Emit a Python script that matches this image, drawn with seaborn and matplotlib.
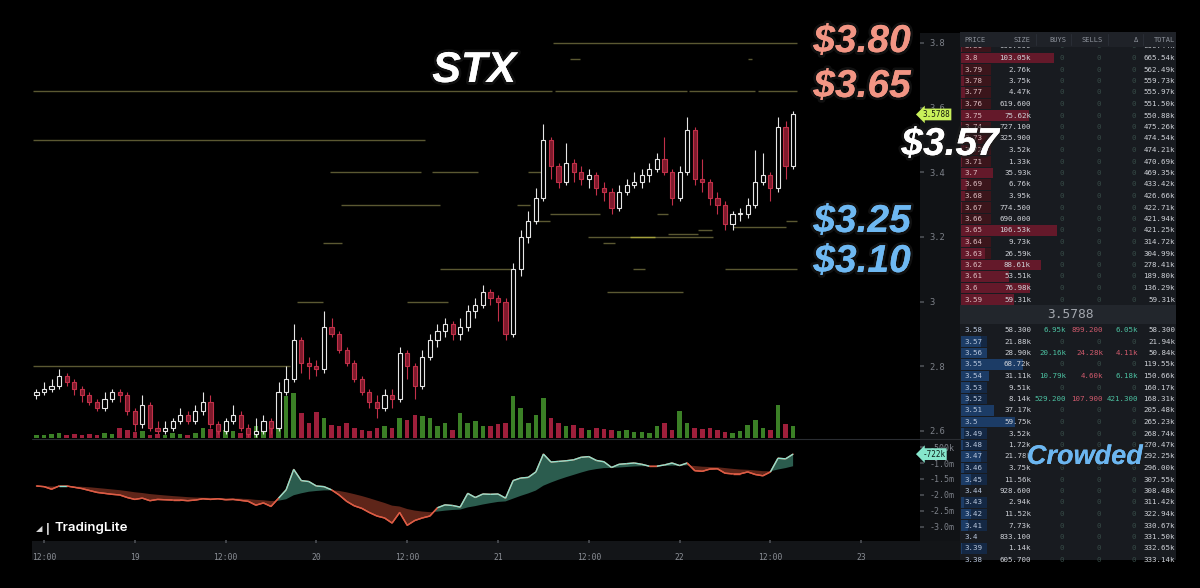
import numpy as np
import pandas as pd
import seaborn as sns
import matplotlib.pyplot as plt
import matplotlib.patheffects as pe
from matplotlib.collections import LineCollection
from matplotlib.patches import Rectangle

# Hourly candles, hours counted from the 18th 00:00
hours = np.arange(11, 112)
first_open = 2.71
close = [2.72, 2.73, 2.74, 2.77, 2.75, 2.73, 2.71, 2.69, 2.67, 2.70,
         2.72, 2.71, 2.66, 2.62, 2.68, 2.61, 2.60, 2.61, 2.63, 2.65,
         2.63, 2.66, 2.69, 2.62, 2.60, 2.63, 2.65, 2.61, 2.59, 2.60,
         2.63, 2.61, 2.72, 2.76, 2.88, 2.81, 2.80, 2.79, 2.92, 2.90,
         2.85, 2.81, 2.76, 2.72, 2.69, 2.67, 2.71, 2.70, 2.84, 2.80,
         2.74, 2.83, 2.88, 2.91, 2.93, 2.90, 2.92, 2.97, 2.99, 3.03,
         3.01, 3.00, 2.90, 3.10, 3.20, 3.25, 3.32, 3.50, 3.42, 3.37,
         3.43, 3.40, 3.38, 3.39, 3.35, 3.34, 3.29, 3.34, 3.36, 3.37,
         3.39, 3.41, 3.44, 3.40, 3.32, 3.40, 3.53, 3.38, 3.37, 3.32,
         3.30, 3.24, 3.27, 3.27, 3.30, 3.37, 3.39, 3.35, 3.54, 3.42,
         3.5788]
high = [2.73, 2.75, 2.76, 2.79, 2.78, 2.76, 2.74, 2.72, 2.70, 2.72,
        2.73, 2.73, 2.72, 2.67, 2.71, 2.69, 2.63, 2.63, 2.64, 2.67,
        2.66, 2.68, 2.72, 2.71, 2.63, 2.64, 2.68, 2.66, 2.62, 2.64,
        2.65, 2.64, 2.75, 2.80, 2.93, 2.89, 2.83, 2.82, 2.97, 2.95,
        2.91, 2.86, 2.82, 2.77, 2.73, 2.71, 2.73, 2.73, 2.86, 2.85,
        2.81, 2.85, 2.90, 2.93, 2.95, 2.94, 2.95, 2.99, 3.01, 3.05,
        3.04, 3.02, 3.01, 3.12, 3.22, 3.28, 3.35, 3.55, 3.51, 3.43,
        3.49, 3.44, 3.42, 3.41, 3.40, 3.37, 3.35, 3.36, 3.38, 3.40,
        3.41, 3.43, 3.46, 3.51, 3.41, 3.42, 3.57, 3.54, 3.44, 3.38,
        3.34, 3.31, 3.28, 3.29, 3.32, 3.47, 3.46, 3.40, 3.57, 3.56,
        3.59]
low = [2.70, 2.71, 2.72, 2.73, 2.74, 2.71, 2.69, 2.68, 2.66, 2.66,
       2.69, 2.69, 2.65, 2.60, 2.61, 2.60, 2.59, 2.59, 2.60, 2.62,
       2.62, 2.62, 2.65, 2.61, 2.59, 2.59, 2.62, 2.60, 2.58, 2.58,
       2.59, 2.59, 2.60, 2.71, 2.75, 2.78, 2.76, 2.77, 2.78, 2.89,
       2.84, 2.80, 2.75, 2.71, 2.67, 2.64, 2.66, 2.67, 2.69, 2.76,
       2.70, 2.73, 2.82, 2.86, 2.89, 2.88, 2.88, 2.91, 2.95, 2.98,
       2.99, 2.94, 2.88, 2.89, 3.08, 3.18, 3.24, 3.31, 3.38, 3.35,
       3.36, 3.37, 3.36, 3.35, 3.33, 3.31, 3.27, 3.28, 3.33, 3.35,
       3.35, 3.37, 3.40, 3.39, 3.30, 3.31, 3.39, 3.36, 3.34, 3.30,
       3.27, 3.22, 3.22, 3.25, 3.26, 3.29, 3.36, 3.31, 3.34, 3.38,
       3.41]
volume = [3, 3, 4, 5, 3, 4, 3, 4, 3, 5, 4, 10, 8, 6,
          7, 3, 4, 3, 5, 4, 3, 5, 10, 9, 6, 8, 7, 5, 6, 12, 15, 14,
          35, 42, 45, 25, 15, 26, 20, 13, 12, 15,
          10, 8, 7, 10, 12, 10, 20, 18, 23, 22,
          20, 12, 15, 8, 25, 15, 17, 12, 12, 14,
          15, 42, 30, 15, 23, 40, 20, 15, 12, 13,
          10, 8, 10, 9, 8, 7, 8, 6, 6, 5,
          12, 15, 8, 27, 15, 10, 9, 10, 8, 6,
          5, 7, 13, 18, 10, 8, 33, 14, 12]
# oscillator, in millions
osc = [-1.72, -1.74, -1.82, -1.72, -1.72, -1.76, -1.80, -1.86, -1.92, -1.95,
       -1.98, -2.00, -2.08, -2.14, -2.10, -2.18, -2.14, -2.15, -2.16, -2.16,
       -2.18, -2.16, -2.12, -2.14, -2.12, -2.15, -2.14, -2.17, -2.20, -2.32,
       -2.25, -2.36, -2.10, -1.84, -1.20, -1.55, -1.58, -1.72, -1.74, -1.84,
       -2.00, -2.20, -2.34, -2.42, -2.55, -2.66, -2.72, -2.88, -2.55, -2.95,
       -2.80, -2.72, -2.66, -2.40, -2.31, -2.33, -2.38, -1.95, -2.08, -1.97,
       -1.98, -1.97, -2.10, -1.55, -1.47, -1.45, -1.28, -0.72, -0.97, -0.95,
       -0.93, -0.90, -0.82, -0.80, -0.92, -0.96, -1.14, -1.04, -1.02, -1.00,
       -1.04, -1.10, -1.10, -1.06, -1.00, -1.08, -1.00, -1.24, -1.26, -1.19,
       -1.18, -1.32, -1.34, -1.34, -1.28, -1.36, -1.40, -1.28, -0.85, -0.87,
       -0.722]

# resting order levels drawn on the chart
lvl_price = [3.80, 3.65, 3.65, 3.65, 3.65, 3.75, 3.75, 3.50, 3.40, 3.40,
             3.40, 3.30, 3.30, 3.27, 3.27, 3.25, 3.25, 3.23, 3.22, 3.21,
             3.20, 3.20, 3.18, 3.18, 3.10, 3.10, 3.10, 3.03, 3.00, 3.00, 2.80]
lvl_from = [79.3, 10.5, 79.5, 97.3, 106.3, 81.5, 105.0, 10.5, 49.8, 63.3,
            76.0, 51.2, 74.5, 78.9, 93.0, 76.6, 110.0, 103.0, 98.4, 94.5,
            83.9, 89.4, 48.9, 85.9, 64.3, 89.8, 102.0, 86.4, 45.4, 60.0, 10.5]
lvl_to = [111.5, 79.2, 97.0, 106.0, 111.5, 82.8, 105.6, 62.4, 61.8, 69.4,
          78.0, 64.3, 76.2, 85.5, 94.5, 78.9, 111.5, 110.0, 100.3, 98.4,
          100.4, 92.7, 51.4, 87.5, 73.8, 91.4, 111.5, 96.4, 48.9, 65.4, 44.5]
lvl_bright = [0] * 21 + [1] + [0] * 9

tick_hours = [12, 24, 36, 48, 60, 72, 84, 96, 108, 120]
tick_labels = ["12:00", "19", "12:00", "20", "12:00", "21", "12:00", "22", "12:00", "23"]
price_ticks = [2.6, 2.8, 3.0, 3.2, 3.4, 3.6, 3.8]
osc_ticks = [-0.5, -1.0, -1.5, -2.0, -2.5, -3.0]
osc_labels = ["-500k", "-1.0m", "-1.5m", "-2.0m", "-2.5m", "-3.0m"]
last_price = 3.5788

# order book
ask_price = [3.81, 3.8, 3.79, 3.78, 3.77, 3.76, 3.75, 3.74, 3.73, 3.72, 3.71, 3.7,
             3.69, 3.68, 3.67, 3.66, 3.65, 3.64, 3.63, 3.62, 3.61, 3.6, 3.59]
ask_size = [900, 103050, 2760, 3750, 4470, 619.6, 75620, 727.1, 325.9, 3520, 1330, 35930,
            6760, 3950, 774.5, 690, 106530, 9730, 26590, 88610, 53510, 76980, 59310]
ask_total = [666440, 665540, 562490, 559730, 555970, 551500, 550880, 475260, 474540, 474210,
             470690, 469350, 433420, 426660, 422710, 421940, 421250, 314720, 304990, 278410,
             189800, 136290, 59310]
bid_price = [3.58, 3.57, 3.56, 3.55, 3.54, 3.53, 3.52, 3.51, 3.5, 3.49, 3.48,
             3.47, 3.46, 3.45, 3.44, 3.43, 3.42, 3.41, 3.4, 3.39, 3.38]
bid_size = [58.3, 21880, 28900, 68720, 31110, 9510, 8140, 37170, 59750, 3520, 1720,
            21780, 3750, 11560, 928.6, 2940, 11520, 7730, 833.1, 1140, 605.7]
bid_buys = [6950, 0, 20160, 0, 10790, 0, 529.2] + [0] * 14
bid_sells = [899.2, 0, 24280, 0, 4600, 0, 107.9] + [0] * 14
bid_delta = [6050, 0, -4110, 0, 6180, 0, 421.3] + [0] * 14
bid_total = [58.3, 21940, 50840, 119550, 150660, 160170, 168310, 205480, 265230, 268740,
             270470, 292250, 296000, 307550, 308480, 311420, 322940, 330670, 331500,
             332650, 333140]

df = pd.DataFrame({"hour": hours, "close": close, "high": high, "low": low,
                   "volume": volume, "osc": osc})
df["open"] = [first_open] + close[:-1]
df["up"] = df["close"] >= df["open"]
df["signal"] = df["osc"].ewm(span=14, adjust=False).mean()

sns.set_theme(style="dark", rc={"axes.facecolor": "black", "figure.facecolor": "black"})
plt.rcParams["font.family"] = ["DejaVu Sans Mono", "DejaVu Sans"]

W, H = 1200, 588
fig = plt.figure(figsize=(12, 5.88), dpi=100)


def fbox(x0, y0, x1, y1):
    # pixel box (top-left origin) -> figure fraction rect
    return [x0 / W, 1 - y1 / H, (x1 - x0) / W, (y1 - y0) / H]


# background strips
fig.add_artist(Rectangle((920 / W, 1 - 541 / H), 40 / W, 508 / H, lw=0,
                         transform=fig.transFigure, color="#111316", zorder=0))
fig.add_artist(Rectangle((32 / W, 1 - 560 / H), 928 / W, 19 / H, lw=0,
                         transform=fig.transFigure, color="#131518", zorder=0))

xlim = (10.414, 127.77)
grey = "#7d8189"

# ---- price panel ----
ax = fig.add_axes(fbox(32, 30, 920, 438))
axv = ax.twinx()
axv.bar(df["hour"], df["volume"], width=0.6,
        color=np.where(df["up"], "#3b8026", "#9e1f3b"), linewidth=0)
axv.set_ylim(0, 408)
axv.set_yticks([])
ax.set_zorder(axv.get_zorder() + 1)
ax.patch.set_visible(False)

for p, a, b, br in zip(lvl_price, lvl_from, lvl_to, lvl_bright):
    ax.hlines(p, a, b, color="#a4a03c" if br else "#5b5832", lw=1.0, zorder=1)

up_c, dn_edge, dn_face = "#e6e6e6", "#c23049", "#7e1a2c"
edge = np.where(df["up"], up_c, dn_edge)
face = np.where(df["up"], "black", dn_face)
ax.vlines(df["hour"], df["low"], df["high"], colors=edge, lw=0.8, zorder=2)
body_lo = df[["open", "close"]].min(axis=1)
body_h = (df["close"] - df["open"]).abs().clip(lower=0.004)
ax.bar(df["hour"], body_h, bottom=body_lo, width=0.55, color=face,
       edgecolor=edge, linewidth=0.8, zorder=3)

ax.set_xlim(*xlim)
ax.set_ylim(2.578, 3.840)
ax.yaxis.tick_right()
ax.set_yticks(price_ticks)
ax.set_yticklabels(["2.6", "2.8", "3", "3.2", "3.4", "3.6", "3.8"])
ax.tick_params(axis="y", colors="#4a4d52", labelcolor=grey, labelsize=6.3,
               length=3, pad=4, right=True)
ax.set_xticks([])
for s in ax.spines.values():
    s.set_visible(False)
for s in axv.spines.values():
    s.set_visible(False)

ax.text(1.0025, last_price, "3.5788", transform=ax.get_yaxis_transform(),
        fontsize=5.5, color="#15180c", va="center", ha="left", zorder=10,
        bbox=dict(boxstyle="larrow,pad=0.18", fc="#c8f05a", ec="none"))

# separator between panes
fig.add_artist(plt.Line2D([32 / W, 960 / W], [1 - 439 / H] * 2,
                          transform=fig.transFigure, color="#2a2d32", lw=0.8))

# ---- oscillator panel ----
axo = fig.add_axes(fbox(32, 440, 920, 540))
osc_a = df["osc"].to_numpy()
sig_a = df["signal"].to_numpy()
axo.fill_between(df["hour"], osc_a, sig_a, where=osc_a >= sig_a, interpolate=True,
                 color="#2b5c4e", lw=0)
axo.fill_between(df["hour"], osc_a, sig_a, where=osc_a < sig_a, interpolate=True,
                 color="#5e2519", lw=0)
sns.lineplot(x=df["hour"], y=df["osc"], ax=axo, color="#dd5c45", lw=1.0)
pts = np.column_stack([df["hour"], osc_a])
segs = np.stack([pts[:-1], pts[1:]], axis=1)
diff = osc_a - sig_a
seg_cols = ["#8fe3cf" if (diff[i] + diff[i + 1]) >= 0 else "#dd5c45" for i in range(len(segs))]
axo.add_collection(LineCollection(segs, colors=seg_cols, lw=1.0))
axo.set_xlim(*xlim)
axo.set_ylim(-3.41, -0.28)
axo.set_xlabel("")
axo.set_ylabel("")
axo.yaxis.tick_right()
axo.set_yticks(osc_ticks)
axo.set_yticklabels(osc_labels)
axo.set_xticks(tick_hours)
axo.set_xticklabels(tick_labels)
axo.tick_params(axis="y", colors="#4a4d52", labelcolor=grey, labelsize=6.0,
                length=3, pad=4, right=True)
axo.tick_params(axis="x", colors="#4a4d52", labelcolor="#8a8e95", labelsize=5.8,
                length=2.5, pad=6.5, bottom=True)
for s in axo.spines.values():
    s.set_visible(False)
axo.text(1.0025, osc[-1], "-722k", transform=axo.get_yaxis_transform(),
         fontsize=5.5, color="#0c1c18", va="center", ha="left", zorder=10,
         bbox=dict(boxstyle="larrow,pad=0.18", fc="#86e6cc", ec="none"))

# ---- order book ----
ob = fig.add_axes(fbox(960, 32, 1176, 560))
ob.set_xlim(0, 216)
ob.set_ylim(560, 32)
ob.set_axis_off()
ob.add_patch(Rectangle((0, 32), 216, 528, color="#181b20", lw=0, zorder=0))

row_h = 11.5
ask_y = 46.5 + row_h * np.arange(len(ask_price))
bid_y = 330 + row_h * np.arange(len(bid_price))
px_per = 0.9 / 1000


def fmt(v):
    v = abs(v)
    if v == 0:
        return "0"
    return f"{v / 1000:.2f}k" if v >= 1000 else f"{v:.3f}"


fs = 5.4
zero_c = "#364b47"
txt_c = "#cfd2d8"
cols_x = [71, 106, 143, 178, 215]

for y, p, s, t in zip(ask_y, ask_price, ask_size, ask_total):
    ob.barh(y, 30, height=10.5, left=1, color="#3b151b", linewidth=0, zorder=1)
    ob.barh(y, s * px_per, height=10.5, left=1, color="#64192a", linewidth=0, zorder=1)
    ob.text(4, y, f"{p:g}", fontsize=fs, color="#dcbcc0", va="center", zorder=2)
    ob.text(cols_x[0], y, fmt(s), fontsize=fs, color=txt_c, va="center", ha="right", zorder=2)
    for cx in cols_x[1:4]:
        ob.text(cx - 2, y, "0", fontsize=fs, color=zero_c, va="center", ha="right", zorder=2)
    ob.text(cols_x[4], y, fmt(t), fontsize=fs, color=txt_c, va="center", ha="right", zorder=2)

for y, p, s, b, se, d, t in zip(bid_y, bid_price, bid_size, bid_buys, bid_sells,
                                bid_delta, bid_total):
    if s > 1000:
        ob.barh(y, 26, height=10.5, left=1, color="#142844", linewidth=0, zorder=1)
        ob.barh(y, s * px_per, height=10.5, left=1, color="#1c3c66", linewidth=0, zorder=1)
    ob.text(4, y, f"{p:g}", fontsize=fs, color="#b8c6dc", va="center", zorder=2)
    ob.text(cols_x[0], y, fmt(s), fontsize=fs, color=txt_c, va="center", ha="right", zorder=2)
    ob.text(cols_x[1] - (0 if b else 2), y, fmt(b), fontsize=fs,
            color="#4cc2a2" if b else zero_c, va="center", ha="right", zorder=2)
    ob.text(cols_x[2] - (0 if se else 2), y, fmt(se), fontsize=fs,
            color="#d05a6c" if se else zero_c, va="center", ha="right", zorder=2)
    dcol = zero_c if d == 0 else ("#4cc2a2" if d > 0 else "#d05a6c")
    ob.text(cols_x[3] - (0 if d else 2), y, fmt(d), fontsize=fs, color=dcol,
            va="center", ha="right", zorder=2)
    ob.text(cols_x[4], y, fmt(t), fontsize=fs, color=txt_c, va="center", ha="right", zorder=2)

# header and mid price band
ob.add_patch(Rectangle((0, 32), 216, 14.5, color="#1f2228", lw=0, zorder=5))
for lab, x, ha in zip(["PRICE", "SIZE", "BUYS", "SELLS", "\u0394", "TOTAL"],
                      [4] + cols_x, ["left"] + ["right"] * 5):
    ob.text(x, 40, lab, fontsize=5.0, color="#8d929b", va="center", ha=ha, zorder=6)
for x in [76, 111, 148, 183]:
    ob.plot([x, x], [34, 45], color="#2c3038", lw=0.6, zorder=6)
ob.add_patch(Rectangle((0, 305), 216, 19, color="#22262c", lw=0, zorder=5))
ob.text(110, 314.5, f"{last_price:.4f}", fontsize=9.3, color="#a3a7ae",
        va="center", ha="center", zorder=6)

# ---- big annotations ----
glow = [pe.withStroke(linewidth=4, foreground="#1c1c1c", alpha=0.6), pe.Normal()]
ann = dict(family="Liberation Sans", weight="bold", style="italic",
           ha="center", va="center", path_effects=glow, zorder=20)
fig.text(474 / W, 1 - 71 / H, "STX", fontsize=31, color="white", **ann)
fig.text(862 / W, 1 - 42 / H, "$3.80", fontsize=28, color="#f29584", **ann)
fig.text(862 / W, 1 - 87 / H, "$3.65", fontsize=28, color="#f29584", **ann)
fig.text(950 / W, 1 - 145 / H, "$3.57", fontsize=28, color="white", **ann)
fig.text(862 / W, 1 - 222 / H, "$3.25", fontsize=28, color="#6eb8f2", **ann)
fig.text(862 / W, 1 - 262 / H, "$3.10", fontsize=28, color="#6eb8f2", **ann)
fig.text(1085 / W, 1 - 457 / H, "Crowded", fontsize=19.5, color="#6cb6f0", **ann)

# TradingLite logo
fig.text(36 / W, 1 - 529 / H, "\u25e2", fontsize=6, color="#d8d8d8", family="DejaVu Sans",
         va="center", zorder=20)
fig.text(45 / W, 1 - 528 / H, "\u2503", fontsize=7, color="#e8e8e8", family="DejaVu Sans",
         va="center", zorder=20)
fig.text(55 / W, 1 - 528 / H, "TradingLite", fontsize=9.5, color="white", family="Inter",
         weight="semibold", va="center", zorder=20)

fig.savefig("out.png", dpi=100, facecolor="black")
